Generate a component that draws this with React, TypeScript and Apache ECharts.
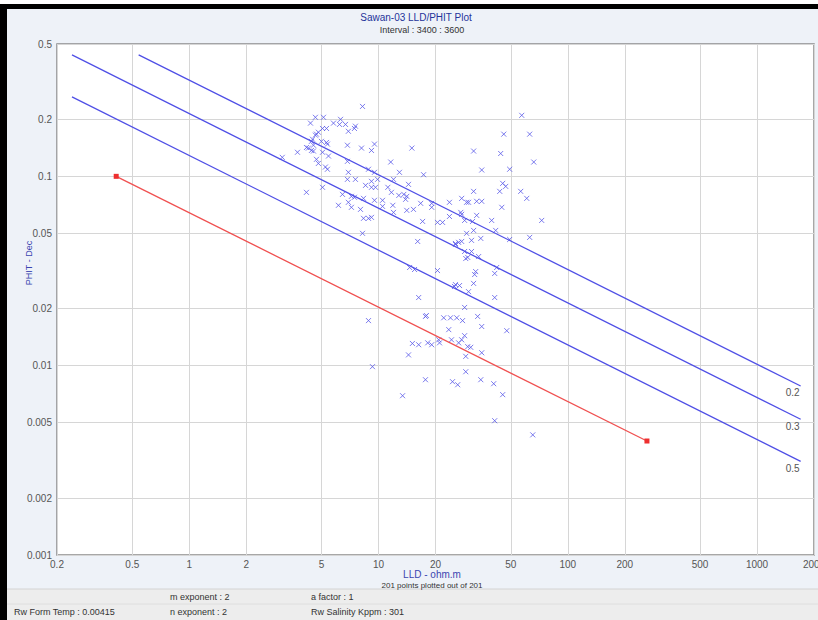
import React, { useEffect, useRef } from "react";
import * as echarts from "echarts";

// Tick values on the two logarithmic axes (1-2-5 per decade)
const xTicks = [0.2, 0.5, 1, 2, 5, 10, 20, 50, 100, 200, 500, 1000, 2000];
const yTicks = [0.001, 0.002, 0.005, 0.01, 0.02, 0.05, 0.1, 0.2, 0.5];

// Log samples: [LLD ohm.m, PHIT dec]
const lldPhit: [number, number][] = [
  [8.23, 0.234], [4.64, 0.205], [5.12, 0.205], [4.37, 0.191], [5.78, 0.191],
  [6.22, 0.188], [6.69, 0.188], [6.3, 0.2], [5.06, 0.179], [5.31, 0.179],
  [7.55, 0.184], [7.46, 0.179], [6.93, 0.173], [4.81, 0.171], [4.64, 0.165],
  [4.7, 0.167], [4.48, 0.157], [4.42, 0.153], [4.99, 0.153], [5.31, 0.151],
  [5.37, 0.148], [4.53, 0.146], [6.85, 0.146], [9.52, 0.148], [8.13, 0.141],
  [9.18, 0.137], [15.0, 0.141], [4.16, 0.142], [4.26, 0.141], [4.42, 0.137],
  [4.53, 0.136], [3.73, 0.134], [5.06, 0.134], [5.44, 0.128], [3.1, 0.126],
  [4.7, 0.123], [4.81, 0.117], [6.85, 0.12], [11.6, 0.119], [5.24, 0.112],
  [5.37, 0.109], [6.93, 0.105], [8.85, 0.109], [9.52, 0.105], [12.9, 0.105],
  [17.3, 0.102], [6.85, 0.0964], [7.55, 0.0964], [9.18, 0.0941], [9.88, 0.0964],
  [12.0, 0.0964], [14.4, 0.0907], [8.54, 0.0896], [9.18, 0.0875], [9.64, 0.0875],
  [11.2, 0.0875], [5.06, 0.0875], [4.16, 0.0823], [6.45, 0.0803], [7.19, 0.0784],
  [7.46, 0.0775], [8.33, 0.0765], [11.7, 0.0823], [12.8, 0.0793], [13.6, 0.0803],
  [14.1, 0.0784], [13.9, 0.0756], [16.7, 0.072], [19.1, 0.072], [23.7, 0.0729],
  [10.5, 0.0747], [9.52, 0.0747], [6.93, 0.0729], [6.14, 0.0703], [7.19, 0.0686],
  [8.03, 0.0669], [10.5, 0.0694], [11.9, 0.0703], [19.1, 0.0686], [14.1, 0.0661],
  [15.3, 0.0669], [12.0, 0.0645], [23.7, 0.0614], [9.18, 0.0607], [8.33, 0.06],
  [8.85, 0.06], [17.1, 0.0578], [20.5, 0.0571], [21.8, 0.0571], [8.23, 0.05],
  [16.1, 0.0453], [25.5, 0.0437],
  [31.8, 0.136], [44.2, 0.132], [66.1, 0.119], [35.1, 0.108], [49.3, 0.109],
  [45.3, 0.0918], [47.0, 0.0885], [43.7, 0.0833], [56.4, 0.0833], [60.7, 0.0765],
  [31.8, 0.0833], [27.5, 0.0765], [29.2, 0.0729], [29.9, 0.0729], [33.0, 0.0738],
  [35.1, 0.0738], [44.8, 0.0686], [27.2, 0.0645], [27.5, 0.063], [33.0, 0.0622],
  [28.5, 0.0585], [31.4, 0.0578], [39.6, 0.0585], [72.8, 0.0585], [41.6, 0.0518],
  [31.8, 0.0518], [29.2, 0.05], [49.3, 0.0464], [62.9, 0.0476], [34.7, 0.047],
  [31.0, 0.0459], [27.5, 0.0453], [26.5, 0.0448], [25.5, 0.0442], [28.5, 0.0401],
  [31.0, 0.0401], [33.8, 0.0377], [29.6, 0.0373], [28.9, 0.0368], [42.1, 0.033],
  [20.5, 0.0318], [14.6, 0.033], [15.5, 0.0322], [32.6, 0.0314], [32.2, 0.0303],
  [41.1, 0.0307], [31.8, 0.0272], [26.8, 0.0265], [25.2, 0.0262], [25.5, 0.0268],
  [29.9, 0.0246], [16.3, 0.0229], [41.1, 0.0229], [28.5, 0.0203],
  [57.1, 0.21], [45.9, 0.167], [62.9, 0.167],
  [8.85, 0.0173], [17.7, 0.0182], [17.9, 0.0184], [22.1, 0.0179], [24.0, 0.0179],
  [25.9, 0.0179], [27.8, 0.0173], [33.4, 0.0182], [35.1, 0.0161], [23.5, 0.0155],
  [47.6, 0.0153], [28.5, 0.0144], [27.5, 0.0137], [24.3, 0.0137], [26.5, 0.0132],
  [20.8, 0.0137], [21.0, 0.0132], [15.1, 0.0131], [16.3, 0.0129], [18.2, 0.0132],
  [19.1, 0.0129], [29.6, 0.0126], [30.7, 0.0125], [35.1, 0.0117], [14.4, 0.0114],
  [28.9, 0.0112], [9.29, 0.00988], [28.9, 0.00929], [17.7, 0.00843], [24.6, 0.00823],
  [26.2, 0.00793], [34.7, 0.00843], [40.6, 0.00803], [45.3, 0.00703], [13.4, 0.00694],
  [41.1, 0.00512], [65.3, 0.00431],
];

// Water saturation iso-lines: start and end points [LLD, PHIT]
const swLabels = ["0.2", "0.3", "0.5"];
const swLines: [number, number][][] = [
  [[0.54, 0.438], [1700, 0.00781]],
  [[0.24, 0.438], [1700, 0.00521]],
  [[0.24, 0.263], [1700, 0.003125]],
];
// Rw (Sw = 1) line
const rwLine: [number, number][] = [[0.411, 0.1], [262, 0.004]];

const FONT = "'Liberation Sans', Arial, sans-serif";
const lg = (v: number) => Math.log10(v);
const toLog = (p: [number, number]) => [lg(p[0]), lg(p[1])];
const fmt = (v: number) => String(Number(Math.pow(10, v).toPrecision(3)));

export default function App() {
  const ref = useRef<HTMLDivElement>(null);

  useEffect(() => {
    if (!ref.current) return;
    const chart = echarts.init(ref.current, null, { renderer: "svg" });

    const blue = "#4f4fe6";
    const footerText = (x: number, y: number, text: string) => ({
      type: "text",
      x,
      y,
      style: { text, fill: "#333", font: `9px ${FONT}`, textVerticalAlign: "middle" },
    });

    chart.setOption({
      animation: false,
      backgroundColor: "#eef2f8",
      textStyle: { fontFamily: FONT },
      grid: {
        left: 57,
        right: 4,
        top: 44,
        bottom: 65,
        outerBoundsMode: "none",
        containLabel: false,
        show: true,
        backgroundColor: "#ffffff",
        borderColor: "#8a8a8a",
        borderWidth: 1.5,
      },
      xAxis: {
        type: "value",
        min: lg(0.2),
        max: lg(2000),
        axisLine: { show: false },
        axisTick: { show: false, customValues: xTicks.map(lg) },
        axisLabel: {
          customValues: xTicks.map(lg),
          formatter: fmt,
          color: "#555",
          fontSize: 10,
          margin: 4,
        },
        splitLine: { show: true, lineStyle: { color: "#d6d6d6", width: 1 } },
      },
      yAxis: {
        type: "value",
        min: lg(0.001),
        max: lg(0.5),
        axisLine: { show: false },
        axisTick: { show: false, customValues: yTicks.map(lg) },
        axisLabel: {
          customValues: yTicks.map(lg),
          formatter: fmt,
          color: "#555",
          fontSize: 10,
          margin: 5,
        },
        splitLine: { show: true, lineStyle: { color: "#d6d6d6", width: 1 } },
      },
      graphic: [
        { type: "rect", shape: { x: 0, y: 589, width: 818, height: 31 }, style: { fill: "#ededed" } },
        { type: "line", shape: { x1: 0, y1: 589, x2: 818, y2: 589 }, style: { stroke: "#d4d4d4", lineWidth: 1 } },
        { type: "line", shape: { x1: 0, y1: 604, x2: 818, y2: 604 }, style: { stroke: "#dedede", lineWidth: 1 } },
        { type: "rect", shape: { x: 0, y: 0, width: 818, height: 4 }, style: { fill: "#ffffff" } },
        { type: "rect", shape: { x: 0, y: 4, width: 818, height: 5 }, style: { fill: "#000000" } },
        { type: "rect", shape: { x: 0, y: 4, width: 7, height: 616 }, style: { fill: "#000000" } },
        {
          type: "text",
          x: 416,
          y: 17,
          style: { text: "Sawan-03 LLD/PHIT Plot", fill: "#25339a", font: `10px ${FONT}`, textAlign: "center", textVerticalAlign: "middle" },
        },
        {
          type: "text",
          x: 422,
          y: 30,
          style: { text: "Interval : 3400 : 3600", fill: "#333", font: `9px ${FONT}`, textAlign: "center", textVerticalAlign: "middle" },
        },
        {
          type: "text",
          x: 29,
          y: 263,
          rotation: Math.PI / 2,
          style: { text: "PHIT - Dec", fill: "#3a45b0", font: `9px ${FONT}`, textAlign: "center", textVerticalAlign: "middle" },
        },
        {
          type: "text",
          x: 432,
          y: 574,
          style: { text: "LLD - ohm.m", fill: "#3a45b0", font: `10px ${FONT}`, textAlign: "center", textVerticalAlign: "middle" },
        },
        {
          type: "text",
          x: 432,
          y: 585,
          style: { text: "201 points plotted out of 201", fill: "#333", font: `8px ${FONT}`, textAlign: "center", textVerticalAlign: "middle" },
        },
        footerText(170, 597, "m exponent : 2"),
        footerText(311, 597, "a factor : 1"),
        footerText(14, 612, "Rw Form Temp : 0.00415"),
        footerText(170, 612, "n exponent : 2"),
        footerText(311, 612, "Rw Salinity Kppm : 301"),
      ],
      series: [
        ...swLines.map((pts, i) => ({
          type: "line",
          symbol: "circle",
          symbolSize: 0,
          showSymbol: true,
          lineStyle: { color: blue, width: 1.3 },
          itemStyle: { color: blue },
          data: [
            toLog(pts[0]),
            {
              value: toLog(pts[1]),
              label: {
                show: true,
                formatter: swLabels[i],
                position: "bottom",
                offset: [-8, -3],
                color: "#555",
                fontSize: 10,
              },
            },
          ],
          z: 3,
        })),
        {
          type: "line",
          symbol: "rect",
          symbolSize: 5,
          showSymbol: true,
          lineStyle: { color: "#f05050", width: 1.3 },
          itemStyle: { color: "#ee2f2f" },
          data: rwLine.map(toLog),
          z: 4,
        },
        {
          type: "scatter",
          symbol: "path://M0,0L10,10M10,0L0,10",
          symbolSize: 5,
          itemStyle: { color: "rgba(0,0,0,0)", borderColor: "#5a5ae8", borderWidth: 1 },
          data: lldPhit.map(toLog),
          z: 2,
        },
      ],
    });

    return () => chart.dispose();
  }, []);

  return (
    <div
      ref={ref}
      style={{ position: "absolute", left: 0, top: 0, width: 818, height: 620 }}
    />
  );
}
